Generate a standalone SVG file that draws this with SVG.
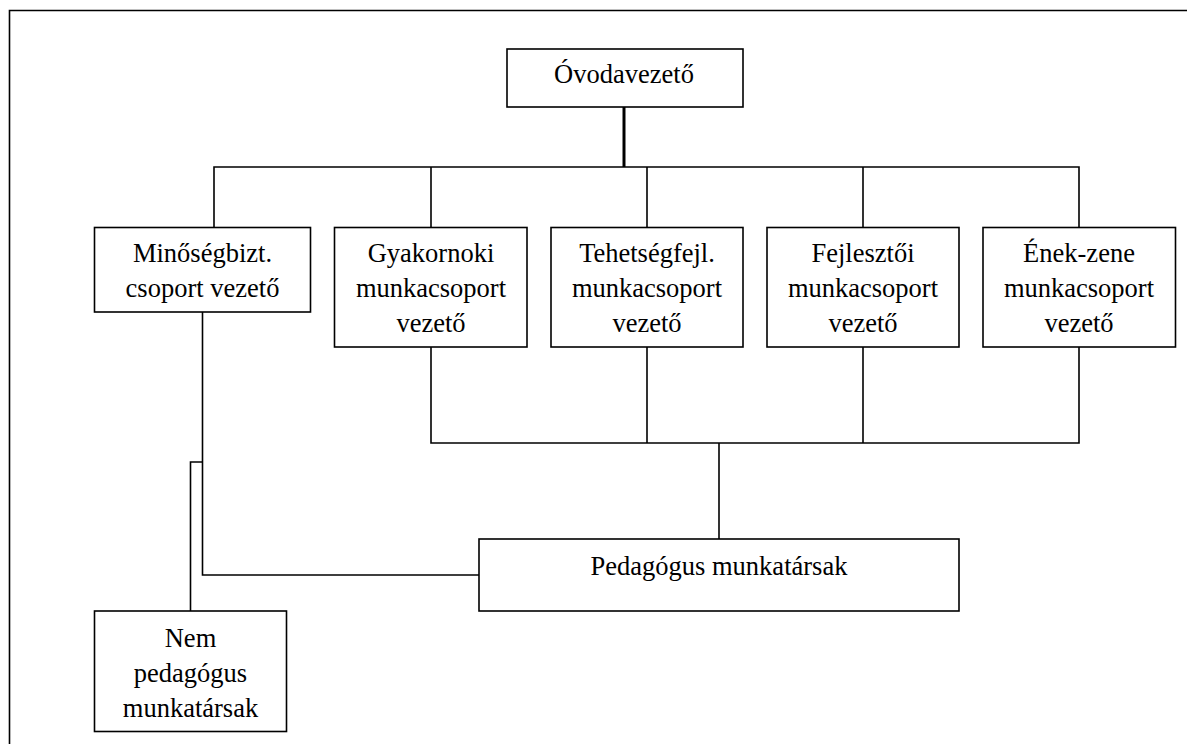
<svg xmlns="http://www.w3.org/2000/svg" width="1187" height="744" viewBox="0 0 1187 744">
<style>
.box{fill:#fff;stroke:#000;stroke-width:1.6}
.ln{fill:none;stroke:#000;stroke-width:1.6}
.t{font-family:'Liberation Serif','DejaVu Serif',serif;font-size:26.5px;fill:#000;text-anchor:middle}
</style>
<rect width="1187" height="744" fill="#fff"/>
<g id="frame">
<path class="ln" d="M9.5,744 V10.5 H1187"/>
</g>
<g id="connectors">
<path d="M624,107 V167" fill="none" stroke="#000" stroke-width="3"/>
<path class="ln" d="M214,227 V167 H1079 V227"/>
<path class="ln" d="M431,167 V227 M647,167 V227 M863,167 V227"/>
<path class="ln" d="M431,347 V443 H1079 V347 M647,347 V443 M863,347 V443"/>
<path class="ln" d="M719,443 V539"/>
<path class="ln" d="M202.5,312 V575 H479"/>
<path class="ln" d="M202.5,462 H190.5 V611"/>
</g>
<g class="t" font-family="Liberation Serif, DejaVu Serif, serif">
<g id="n-ovodavezeto">
<rect class="box" x="507" y="49" width="236" height="58"/>
<text x="624" y="83">Óvodavezető</text>
</g>
<g id="n-minoseg">
<rect class="box" x="94.5" y="227.5" width="216" height="84.5"/>
<text x="202.5" y="262">Minőségbizt.</text>
<text x="202.5" y="297">csoport vezető</text>
</g>
<g id="n-gyakornoki">
<rect class="box" x="334.5" y="227.5" width="192.5" height="119.5"/>
<text x="431" y="262">Gyakornoki</text>
<text x="431" y="297">munkacsoport</text>
<text x="431" y="332">vezető</text>
</g>
<g id="n-tehetseg">
<rect class="box" x="551" y="227.5" width="192" height="119.5"/>
<text x="647" y="262">Tehetségfejl.</text>
<text x="647" y="297">munkacsoport</text>
<text x="647" y="332">vezető</text>
</g>
<g id="n-fejleszto">
<rect class="box" x="767" y="227.5" width="192" height="119.5"/>
<text x="863" y="262">Fejlesztői</text>
<text x="863" y="297">munkacsoport</text>
<text x="863" y="332">vezető</text>
</g>
<g id="n-enekzene">
<rect class="box" x="983" y="227.5" width="192.5" height="119.5"/>
<text x="1079" y="262">Ének-zene</text>
<text x="1079" y="297">munkacsoport</text>
<text x="1079" y="332">vezető</text>
</g>
<g id="n-pedagogus">
<rect class="box" x="479" y="539" width="480" height="72"/>
<text x="719" y="575">Pedagógus munkatársak</text>
</g>
<g id="n-nempedagogus">
<rect class="box" x="94.5" y="611" width="192" height="120.5"/>
<text x="190.5" y="647">Nem</text>
<text x="190.5" y="682">pedagógus</text>
<text x="190.5" y="717">munkatársak</text>
</g>
</g>
</svg>
